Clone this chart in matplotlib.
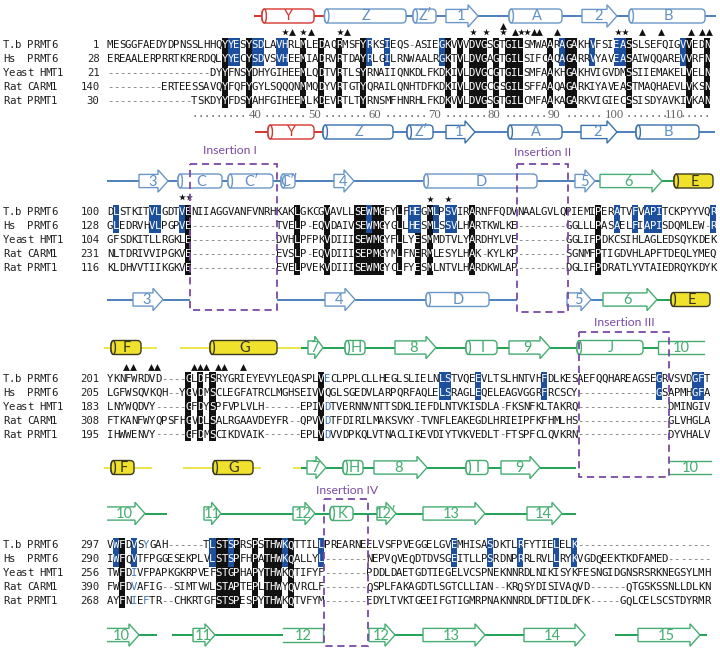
#!/usr/bin/env python3

import matplotlib
matplotlib.use("Agg")
import matplotlib.pyplot as plt
from matplotlib.patches import Ellipse, FancyBboxPatch, Polygon, Rectangle

NAMES = ["T.b PRMT6", "Hs  PRMT6", "Yeast HMT1", "Rat CARM1", "Rat PRMT1"]

# alignment, one list per block
SEQS_1 = [
    "MESGGFAEDYDPNSSLHHQYYESYSDLAVHRLMLEDAQRMSFYRKSIEQS-ASIEGKVVVDVGSGTGILSMWAARAGAKHVFSIEASSLSEFQIGVVEDN",
    "EREAALERPRRTKRERDQLYYECYSDVSVHEEMIADRVRTDAYRLGILRNWAALRGKTVLDVGAGTGILSIFCAQAGARRVYAVEASAIWQQAREVVRFN",
    "-----------------DYYFNSYDHYGIHEEMLQDTVRTLSYRNAIIQNKDLFKDKIVLDVGCGTGILSMFAAKHGAKHVIGVDMSSIIEMAKELVELN",
    "---------ERTEESSAVQYFQFYGYLSQQQNMMQDYVRTGTYQRAILQNHTDFKDKIVLDVGCGSGILSFFAAQAGARKIYAVEASTMAQHAEVLVKSN",
    "--------------TSKDYYFDSYAHFGIHEEMLKDEVRTLTYRNSMFHNRHLFKDKVVLDVGSGTGILCMFAAKAGARKVIGIECSSISDYAVKIVKAN",
]
SEQS_2 = [
    "DLSTKITVLGDTVENIIAGGVANFVNRHKAKLGKCGVAVLLSEWMGFYLFHEGMLPSVIRARNFFQDVNAALGVLQPIEMIPERATVFVAPITCKPYYVQR",
    "GLEDRVHVLPGPVE--------------TVELP-EQVDAIVSEWMGYGLLHESMLSSVLHARTKWLKE--------GGLLLPASAELFIAPISDQMLEW-R",
    "GFSDKITLLRGKLE--------------DVHLPFPKVDIIISEWMGYFLLYESMMDTVLYARDHYLVE--------GGLIFPDKCSIHLAGLEDSQYKDEK",
    "NLTDRIVVIPGKVE--------------EVSLP-EQVDIIISEPMGYMLFNERMLESYLHAK-KYLKP--------SGNMFPTIGDVHLAPFTDEQLYMEQ",
    "KLDHVVTIIKGKVE--------------EVELPVEKVDIIISEWMGYCLFYESMLNTVLHARDKWLAP--------DGLIFPDRATLYVTAIEDRQYKDYK",
]
SEQS_3 = [
    "YKNFWRDVD----GLDFSRYGRIEYEVYLEQASPLVECLPPLCLLHEGLSLIELNLSTVQEEVLTSLHNTVHFDLKESAEFQQHAREAGSEGRVSVDGFT",
    "LGFWSQVKQH--YGVDMSCLEGFATRCLMGHSEIVVQGLSGEDVLARPQRFAQLELSRAGLEQELEAGVGGRFRCSCY-------------GSAPMHGFA",
    "LNYWQDVY-----GFDYSPFVPLVLH------EPIVDTVERNNVNTTSDKLIEFDLNTVKISDLA-FKSNFKLTAKRQ---------------DMINGIV",
    "FTKANFWYQPSFHGVDLSALRGAAVDEYFR--QPVVDTFDIRILMAKSVKY-TVNFLEAKEGDLHRIEIPFKFHMLHS---------------GLVHGLA",
    "IHWWENVY-----GFDMSCIKDVAIK------EPLVDVVDPKQLVTNACLIKEVDIYTVKVEDLT-FTSPFCLQVKRN---------------DYVHALV",
]
SEQS_4 = [
    "VWFDVSYGAH------TLSTSPRSPSTHWKQTTILLPREARNEELVSFPVEGGELGVEMHISASDKTLRFYTIELELK----------------------",
    "IWFQVTFPGGESEKPLVLSTSPFHPATHWKQALLYL-------NEPVQVEQDTDVSGEITLLPSRDNPRRLRVLLRYKVGDQEEKTKDFAMED-------",
    "TWFDIVFPAPKGKRPVEFSTGPHAPYTHWKQTIFYF-------PDDLDAETGDTIEGELVCSPNEKNNRDLNIKISYKFESNGIDGNSRSRKNEGSYLMH",
    "FWFDVAFIG--SIMTVWLSTAPTEPLTHWYQVRCLF-------QSPLFAKAGDTLSGTCLLIAN--KRQSYDISIVAQVD------QTGSKSSNLLDLKN",
    "AYFNIEFTR--CHKRTGFSTSPESPYTHWKQTVFYM-------EDYLTVKTGEEIFGTIGMRPNAKNNRDLDFTIDLDFK-----GQLCELSCSTDYRMR",
]
STARTS_1 = [1, 28, 21, 140, 30]
STARTS_2 = [100, 128, 104, 231, 116]
STARTS_3 = [201, 205, 183, 308, 195]
STARTS_4 = [297, 290, 256, 390, 268]

# shaded columns: black over all rows, blue on the first two rows, black on the last three
BLACK_1 = [19, 23, 32, 35, 38, 42, 56, 58, 60, 61, 62, 64, 66, 67, 68, 73, 76, 77, 86, 96, 99]
BLUE_1 = [20, 21, 24, 25, 28, 29, 43, 46, 55, 75, 80, 84, 85, 95]
LOW_1 = []
BLACK_2 = [13, 31, 36, 41, 42, 44, 45, 48, 53, 60, 81]
BLUE_2 = [1, 7, 8, 12, 43, 50, 51, 54, 56, 57, 84, 87, 89, 90, 91, 100]
LOW_2 = [43, 51]
BLACK_3 = [13, 15, 17, 35]
BLUE_3 = [55, 56, 61, 72, 91, 97, 98]
LOW_3 = []
BLACK_4 = [2, 18, 19, 21, 24, 26, 27, 28, 30]
BLUE_4 = [1, 4, 17, 20, 29, 35, 57, 63, 68, 74, 77]
LOW_4 = [20]

# (row, column) of residues in blue type on white
BLUE_TYPE_3 = [(0, 36), (2, 36), (3, 36), (4, 36)]
BLUE_TYPE_4 = [(0, 6), (2, 4), (3, 4), (4, 4), (4, 6)]

RULER_LABELS = [40, 50, 60, 70, 80, 90, 100, 110]
RULER_COLS = [24.0, 33.9, 43.9, 53.8, 63.7, 73.7, 83.6, 93.5]

STARS = [(285, 32), (303, 32), (340, 32), (473, 32), (486, 32), (503, 32), (521, 32), (527, 32),
         (618, 32), (625, 32), (182, 197), (189, 197), (430, 199), (448, 199)]
TRIANGLES = [(292, 32), (311, 32), (347, 32), (503, 26), (515, 32), (534, 32), (539, 32), (557, 32),
             (642, 32), (661, 32), (691, 32), (702, 32), (709, 32),
             (126, 367), (133, 367), (151, 367), (157, 367), (194, 367), (200, 367),
             (206, 367), (218, 367), (224, 367), (243, 367)]

# secondary structure tracks: kind, start, end, label, colour
TRACK_1A = [
    ("line", 254, 263, "", "red"), ("helix", 262, 314, "Y", "red"), ("line", 314, 325, "", "red"),
    ("helix", 324.5, 406, "Z", "blue"), ("line", 406, 413, "", "blue"), ("helix", 413, 436, "Z\u2032", "blue"),
    ("line", 436, 446, "", "blue"), ("arrow", 446, 478, "1", "blue"), ("line", 478, 509, "", "blue"),
    ("helix", 509, 562, "A", "blue"), ("line", 562, 582, "", "blue"), ("arrow", 582, 617, "2", "blue"),
    ("line", 617, 630, "", "blue"), ("helix", 629, 705, "B", "blue"), ("line", 705, 716, "", "blue"),
]
TRACK_1B = [
    ("line", 255, 268, "", "red"), ("helix", 268, 314, "Y", "red"), ("line", 314, 323, "", "red"),
    ("helix", 323, 393, "Z", "navy"), ("line", 393, 407, "", "navy"), ("helix", 407, 433, "Z\u2032", "navy"),
    ("line", 433, 446, "", "navy"), ("arrow", 446, 475, "1", "navy"), ("line", 475, 508, "", "navy"),
    ("helix", 508, 562, "A", "navy"), ("line", 562, 581, "", "navy"), ("arrow", 581, 617, "2", "navy"),
    ("line", 617, 636, "", "navy"), ("helix", 636, 699, "B", "navy"), ("line", 699, 715, "", "navy"),
]
TRACK_2A = [
    ("line", 107, 139, "", "blue"), ("arrow", 139, 168, "3", "blue"), ("line", 168, 178, "", "blue"),
    ("helix", 178, 222, "C", "blue"), ("line", 222, 228, "", "blue"), ("helix", 228, 273, "C\u2032", "blue"),
    ("line", 273, 281, "", "blue"), ("helix", 281, 295, "C\u2033", "blue"), ("line", 295, 334, "", "blue"),
    ("arrow", 334, 354, "4", "blue"), ("line", 354, 424, "", "blue"), ("helix", 424, 537, "D", "blue"),
    ("line", 537, 575, "", "blue"), ("arrow", 575, 595, "5", "blue"), ("line", 595, 600, "", "blue"),
    ("arrow", 600, 662, "6", "green"), ("line", 662, 674, "", "green"), ("helix", 674, 713, "E", "yellow"),
]
TRACK_2B = [
    ("line", 107, 133, "", "blue"), ("arrow", 133, 163, "3", "blue"), ("line", 163, 190, "", "blue"),
    ("line", 277, 325, "", "blue"), ("arrow", 325, 355, "4", "blue"), ("line", 355, 426, "", "blue"),
    ("helix", 426, 489, "D", "blue"), ("line", 489, 517, "", "blue"), ("arrow", 567, 591, "5", "blue"),
    ("line", 591, 603, "", "blue"), ("arrow", 603, 657, "6", "green"), ("line", 657, 671, "", "green"),
    ("helix", 671, 710, "E", "yellow"),
]
TRACK_3A = [
    ("line", 104, 111, "", "yline"), ("helix", 111, 141, "F", "yellow"), ("line", 141, 157, "", "yline"),
    ("line", 180, 210, "", "yline"), ("helix", 210, 277, "G", "yellow"), ("line", 277, 301, "", "yline"),
    ("line", 301, 309, "", "green"), ("arrow", 308, 323, "7", "green"), ("line", 323, 345, "", "green"),
    ("helix", 345, 365, "H", "green"), ("line", 365, 395, "", "green"), ("arrow", 395, 436, "8", "green"),
    ("line", 436, 466, "", "green"), ("helix", 466, 497, "I", "green"), ("line", 497, 509, "", "green"),
    ("arrow", 509, 550, "9", "green"), ("line", 550, 577, "", "green"), ("helix", 577, 643, "J", "green"),
    ("line", 643, 658, "", "green"), ("strand_r", 658, 704, "10", "green"),
]
TRACK_3B = [
    ("line", 104, 111, "", "yline"), ("helix", 111, 134, "F", "yellow"), ("line", 134, 152, "", "yline"),
    ("line", 183, 213, "", "yline"), ("helix", 213, 253, "G", "yellow"), ("line", 253, 261, "", "yline"),
    ("line", 293, 301, "", "yline"), ("line", 301, 307, "", "green"), ("arrow", 307, 326, "7", "green"),
    ("line", 326, 343, "", "green"), ("helix", 343, 363, "H", "green"), ("line", 363, 374, "", "green"),
    ("arrow", 374, 427, "8", "green"), ("line", 427, 466, "", "green"), ("helix", 466, 488, "I", "green"),
    ("line", 488, 501, "", "green"), ("arrow", 501, 540, "9", "green"), ("line", 540, 576, "", "green"),
    ("strand", 669, 711, "10", "green"),
]
TRACK_4A = [
    ("arrow_open", 107, 145, "10", "green"), ("line", 145, 167, "", "green"), ("arrow", 204, 221, "11", "green"),
    ("line", 221, 293, "", "green"), ("arrow", 293, 315, "12", "green"), ("line", 315, 330, "", "green"),
    ("helix", 330, 353, "K", "green"), ("line", 353, 377, "", "green"), ("arrow", 377, 396, "12\u2032", "green"),
    ("line", 396, 423, "", "green"), ("arrow", 423, 485, "13", "green"), ("line", 485, 527, "", "green"),
    ("arrow", 527, 562, "14", "green"), ("line", 562, 576, "", "green"),
]
TRACK_4B = [
    ("arrow_open", 107, 139, "10", "green"), ("line", 139, 157, "", "green"), ("line", 172, 193, "", "green"),
    ("arrow", 193, 215, "11", "green"), ("line", 215, 283, "", "green"), ("strand_l", 283, 323, "12", "green"),
    ("arrow", 369, 395, "12", "green"), ("line", 395, 423, "", "green"), ("arrow", 423, 485, "13", "green"),
    ("line", 485, 524, "", "green"), ("arrow", 524, 585, "14", "green"), ("line", 615, 638, "", "green"),
    ("arrow", 638, 700, "15", "green"), ("line", 700, 707, "", "green"),
]

INSERT_NAMES = ["Insertion I", "Insertion II", "Insertion III", "Insertion IV"]
INSERT_LABEL_XY = [(230, 151), (543, 153), (624, 323), (347, 490)]
INSERT_BOXES = [(190, 277, 163.5, 309.5), (517, 567.5, 164, 312), (578.5, 668.5, 332, 477), (324, 367.5, 498.5, 646)]

COLORS = {"red": "#d5352f", "blue": "#6a97c8", "navy": "#3a70ad", "green": "#45ad72",
          "yellow": "#3a3a20", "yline": "#ece54a"}
LABEL_COLORS = {"red": "#d5352f", "blue": "#5f8fc4", "navy": "#5f8fc4", "green": "#45ad70", "yellow": "#333320"}
LINE_COLORS = {"blue": "#4c80bb", "navy": "#4c80bb", "green": "#1fa255", "red": "#d5352f", "yline": "#ece54a", "yellow": "#ece54a"}
BLUE_BG = "#1d4f9f"
BLACK_BG = "#111111"
PURPLE = "#7b4aa3"
X0 = 110.0
CW = 6.03
MONO = "DejaVu Sans Mono"
SEQ_SIZE = 7.7

fig = plt.figure(figsize=(7.2, 6.51), dpi=100)
ax = fig.add_axes([0, 0, 1, 1])
ax.set_xlim(0, 720)
ax.set_ylim(651, 0)
ax.axis("off")


def col_x(col):
    return X0 + CW * col


def draw_block(seqs, starts, rows_y, black, blue, low, blue_type=()):
    top = rows_y[0] - 7.5
    mid = rows_y[1] + 7
    bottom = rows_y[4] + 6.5
    ax.bar([col_x(c) for c in black], bottom - top, CW, bottom=top, color=BLACK_BG, zorder=1)
    ax.bar([col_x(c) for c in blue], mid - top, CW, bottom=top, color=BLUE_BG, zorder=1)
    if low:
        ax.bar([col_x(c) for c in low], bottom - mid, CW, bottom=mid, color=BLACK_BG, zorder=1)

    for r, seq in enumerate(seqs):
        y = rows_y[r]
        for c, ch in enumerate(NAMES[r]):
            ax.text(3 + CW * (c + 0.5), y, ch, family=MONO, fontsize=SEQ_SIZE, color="#222222", ha="center", va="center")
        ax.text(99.5, y, str(starts[r]), family=MONO, fontsize=SEQ_SIZE, color="#222222", ha="right", va="center")
        for c, ch in enumerate(seq):
            color = "#151515"
            if ch == "-":
                color = "#777777"
            elif c in black or (r < 2 and c in blue) or (r >= 2 and c in low):
                color = "white"
            elif (r, c) in blue_type:
                color = "#3f74b8"
            ax.text(col_x(c), y, ch, family=MONO, fontsize=SEQ_SIZE, color=color, ha="center", va="center", zorder=2)


def draw_label(x, y, label, kind):
    if label:
        ax.text(x, y + 0.5, label, fontsize=10.5, family="Lato", color=LABEL_COLORS[kind],
                ha="center", va="center", zorder=4)


def draw_helix(x0, x1, y, label, kind):
    edge = COLORS[kind]
    face = "#f0e22c" if kind == "yellow" else "white"
    h = 7.0
    ax.add_patch(FancyBboxPatch((x0, y - h), x1 - x0, 2 * h, boxstyle="round,pad=0,rounding_size=4",
                                fc=face, ec=edge, lw=1.0, zorder=3))
    ax.add_patch(Ellipse((x0 + 2.2, y), 4.4, 2 * h, fc=face, ec=edge, lw=1.0, zorder=3))
    draw_label((x0 + x1) / 2 + 1, y, label, kind)


def draw_arrow(x0, x1, y, label, kind, open_left=False):
    edge = COLORS[kind]
    body = 6.6
    head = 11.2
    neck = x1 - min(10, (x1 - x0) * 0.55)
    ax.add_patch(Polygon([(x0, y - body), (neck, y - body), (neck, y - head), (x1, y), (neck, y + head),
                          (neck, y + body), (x0, y + body)], closed=not open_left, fc="white", ec=edge,
                         lw=1.0, zorder=3))
    draw_label(x0 + (x1 - x0) * 0.46, y, label, kind)


def draw_strand(x0, x1, y, label, kind, side):
    edge = COLORS[kind]
    body = 6.6
    if side == "both":
        xs, ys = [x0, x1], [y - body, y - body]
        ax.plot(xs, ys, color=edge, lw=1.0, zorder=3)
        ax.plot(xs, [y + body, y + body], color=edge, lw=1.0, zorder=3)
    elif side == "right":
        ax.plot([x1, x0, x0, x1], [y - body, y - body, y + body, y + body], color=edge, lw=1.0, zorder=3)
    else:
        ax.plot([x0, x1, x1, x0], [y - body, y - body, y + body, y + body], color=edge, lw=1.0, zorder=3)
    draw_label((x0 + x1) / 2, y, label, kind)


def draw_track(track, y):
    for kind, x0, x1, label, color in track:
        if kind == "line":
            ax.plot([x0, x1], [y, y], color=LINE_COLORS[color], lw=1.4, solid_capstyle="butt", zorder=2)
        elif kind == "helix":
            draw_helix(x0, x1, y, label, color)
        elif kind == "arrow":
            draw_arrow(x0, x1, y, label, color)
        elif kind == "arrow_open":
            draw_arrow(x0, x1, y, label, color, open_left=True)
        elif kind == "strand":
            draw_strand(x0, x1, y, label, color, "both")
        elif kind == "strand_r":
            draw_strand(x0, x1, y, label, color, "right")
        elif kind == "strand_l":
            draw_strand(x0, x1, y, label, color, "left")


draw_block(SEQS_1, STARTS_1, [45, 59, 73, 87, 101], BLACK_1, BLUE_1, LOW_1)
draw_block(SEQS_2, STARTS_2, [212, 226, 240, 254, 268], BLACK_2, BLUE_2, LOW_2)
draw_block(SEQS_3, STARTS_3, [379, 393, 407, 421, 434.5], BLACK_3, BLUE_3, LOW_3, BLUE_TYPE_3)
draw_block(SEQS_4, STARTS_4, [545.5, 559.5, 573.5, 587.5, 601.5], BLACK_4, BLUE_4, LOW_4, BLUE_TYPE_4)

# ruler under block 1
for label, col in zip(RULER_LABELS, RULER_COLS):
    ax.text(col_x(col), 115, str(label), family="Liberation Serif", fontsize=9.2, color="#666666", ha="center", va="center")
for c in range(14, 100):
    if min(abs(c - col) for col in RULER_COLS) > 1.3 and abs(c - 83.6) > 1.8:
        ax.text(col_x(c), 114, ".", family=MONO, fontsize=SEQ_SIZE, color="#555555", ha="center", va="center")

ax.scatter(*zip(*STARS), marker="*", s=26, color="#111111", linewidths=0, zorder=5)
ax.scatter(*zip(*TRIANGLES), marker="^", s=24, color="#111111", linewidths=0, zorder=5)

draw_track(TRACK_1A, 16)
draw_track(TRACK_1B, 132)
draw_track(TRACK_2A, 181)
draw_track(TRACK_2B, 299.5)
draw_track(TRACK_3A, 347.5)
draw_track(TRACK_3B, 467.5)
draw_track(TRACK_4A, 513.5)
draw_track(TRACK_4B, 635)

for name, (x, y), (x0, x1, y0, y1) in zip(INSERT_NAMES, INSERT_LABEL_XY, INSERT_BOXES):
    ax.text(x, y, name, family="Lato", fontsize=8.8, color=PURPLE, ha="center", va="center", zorder=6)
    ax.add_patch(Rectangle((x0, y0), x1 - x0, y1 - y0, fill=False, ec=PURPLE, lw=1.3, ls=(0, (4, 2.6)), zorder=6))

fig.savefig("out.png", dpi=100)
